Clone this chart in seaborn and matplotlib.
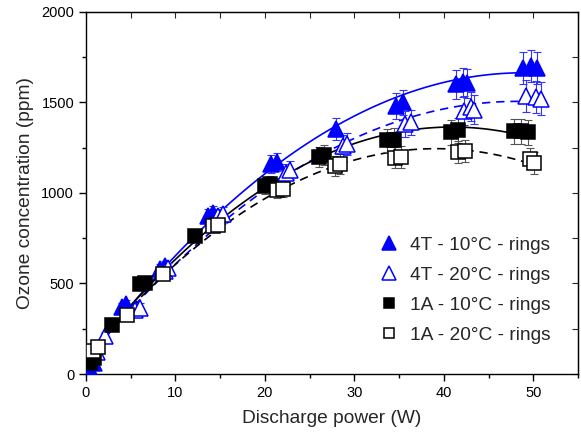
import numpy as np
import matplotlib
matplotlib.use("Agg")
import matplotlib.pyplot as plt
import seaborn as sns
from matplotlib.ticker import MultipleLocator

# CONFIG
sns.set_style("ticks")
plt.rcParams["font.family"] = ["Liberation Sans", "DejaVu Sans"]

# DATA
labels = ["4T - 10°C - rings", "4T - 20°C - rings", "1A - 10°C - rings", "1A - 20°C - rings"]

x_4t10 = [0.4, 0.9, 4.0, 4.5, 8.3, 8.8, 13.6, 14.2, 20.7, 21.3, 27.9, 34.7, 35.4, 41.3, 42.1, 42.6, 48.8, 49.7, 50.4]
y_4t10 = [30, 60, 370, 385, 580, 595, 870, 890, 1160, 1170, 1355, 1480, 1500, 1600, 1610, 1605, 1690, 1700, 1690]
e_4t10 = [20, 20, 25, 25, 30, 30, 40, 40, 50, 50, 60, 70, 70, 80, 80, 80, 90, 90, 90]

x_4t20 = [1.2, 2.1, 5.5, 6.0, 8.8, 9.2, 14.8, 15.3, 22.3, 22.8, 28.7, 29.2, 35.7, 36.3, 42.2, 43.0, 43.4, 49.2, 50.3, 50.8]
y_4t20 = [120, 210, 355, 365, 570, 585, 870, 885, 1110, 1125, 1260, 1270, 1380, 1390, 1455, 1475, 1460, 1535, 1530, 1520]
e_4t20 = [20, 20, 25, 25, 30, 30, 40, 40, 50, 50, 60, 60, 70, 70, 80, 80, 80, 90, 90, 90]

x_1a10 = [0.5, 0.9, 2.9, 6.0, 6.6, 12.2, 20.0, 20.6, 26.0, 26.6, 33.6, 34.4, 40.8, 41.6, 47.8, 48.6, 49.4]
y_1a10 = [60, 90, 270, 495, 505, 760, 1040, 1050, 1200, 1210, 1290, 1295, 1335, 1345, 1340, 1340, 1335]
e_1a10 = [20, 20, 25, 25, 25, 30, 45, 45, 55, 55, 65, 65, 70, 70, 70, 70, 70]

x_1a20 = [0.8, 1.3, 4.6, 8.6, 14.2, 14.7, 21.4, 22.0, 27.8, 28.4, 34.5, 35.2, 41.6, 42.4, 49.6, 50.1]
y_1a20 = [130, 150, 325, 555, 820, 825, 1015, 1020, 1150, 1160, 1195, 1200, 1225, 1230, 1190, 1165]
e_1a20 = [20, 20, 25, 25, 35, 35, 45, 45, 55, 55, 60, 60, 60, 60, 60, 60]

series = [
    (x_4t10, y_4t10, e_4t10, "^", "#0000ff", "#0000ff", "-", "#3333ff"),
    (x_4t20, y_4t20, e_4t20, "^", "white", "#0000ff", "--", "#3333ff"),
    (x_1a10, y_1a10, e_1a10, "s", "black", "black", "-", "#555555"),
    (x_1a20, y_1a20, e_1a20, "s", "white", "black", "--", "#555555"),
]

fig = plt.figure(figsize=(5.81, 4.38), dpi=100)
ax = fig.add_axes([0.148, 0.146, 0.847, 0.827])

# quadratic fit curves
for xs, ys, es, mk, fc, ec, ls, erc in series:
    kw = {"color": ec, "lw": 1.2}
    if ls == "--":
        kw["dashes"] = (5, 3.5)
    sns.regplot(x=np.array(xs), y=np.array(ys), order=2, ci=None, scatter=False,
                truncate=True, ax=ax, line_kws=kw)

# markers with error bars
handles = []
for (xs, ys, es, mk, fc, ec, ls, erc), lab in zip(series, labels):
    ax.errorbar(xs, ys, yerr=es, fmt="none", ecolor=erc, elinewidth=0.8,
                capsize=3, capthick=0.8, zorder=3)
    h = ax.plot(xs, ys, ls="none", marker=mk, ms=11 if mk == "^" else 10,
                mfc=fc, mec=ec, mew=1.1, zorder=4, label=lab)[0]
    handles.append(h)

ax.set_xlim(0, 55)
ax.set_ylim(0, 2000)
ax.xaxis.set_major_locator(MultipleLocator(10))
ax.xaxis.set_minor_locator(MultipleLocator(5))
ax.yaxis.set_major_locator(MultipleLocator(500))
ax.yaxis.set_minor_locator(MultipleLocator(250))
ax.tick_params(which="both", direction="out", labelsize=10.5, width=1.0, colors="black")
ax.tick_params(which="major", length=5)
ax.tick_params(which="minor", length=3)
for s in ax.spines.values():
    s.set_linewidth(1.0)
    s.set_color("black")

# mirrored ticks on top and right
top = ax.secondary_xaxis("top")
top.set_xticks(np.arange(0, 56, 5))
top.tick_params(direction="in", length=4, labeltop=False)
right = ax.secondary_yaxis("right")
right.set_yticks(np.arange(0, 2001, 250))
right.tick_params(direction="in", length=4, labelright=False)

ax.set_xlabel("Discharge power (W)", fontsize=13.8, labelpad=7)
ax.set_ylabel("Ozone concentration (ppm)", fontsize=13.8, labelpad=5)

leg = ax.legend(handles=handles, loc="lower right", bbox_to_anchor=(0.945, 0.083),
                borderaxespad=0, borderpad=0,
                frameon=False, fontsize=13.8, handlelength=1.0, handletextpad=0.6,
                labelspacing=0.66)
for lh, mk in zip(leg.legend_handles, ["^", "^", "s", "s"]):
    lh.set_markersize(10 if mk == "^" else 7)

fig.savefig("out.png", dpi=100)
